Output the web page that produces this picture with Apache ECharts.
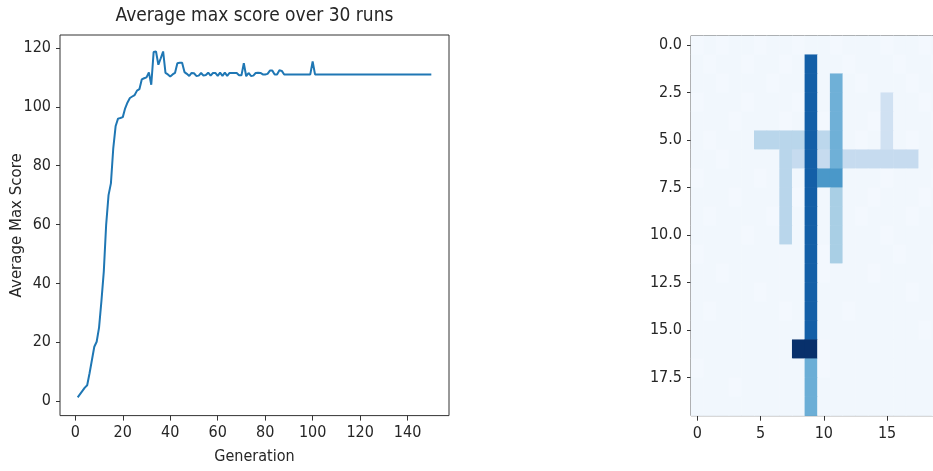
<!DOCTYPE html>
<html><head><meta charset="utf-8">
<script src="https://cdn.jsdelivr.net/npm/echarts@6/dist/echarts.min.js"></script>
<style>html,body{margin:0;padding:0;background:#fff;overflow:hidden}#c{width:933px;height:471px}</style>
</head><body><div id="c"></div>
<script>
// Average max score per generation (generation 1..150)
const avgMaxScore = [
  1.3, 2.4, 3.5, 4.6, 5.4, 9.5, 14, 18.5, 20.2, 25,
  34, 44, 60, 70, 74, 86, 93.5, 96, 96.2, 96.5,
  99.5, 101.5, 103, 103.5, 104, 105.5, 106, 109.3, 109.7, 110,
  111.7, 107.5, 118.6, 118.8, 114.3, 116.5, 118.8, 111.5, 111, 110.3,
  111, 111.5, 114.8, 115, 115, 111.8, 111.2, 110.5, 111.5, 111.4,
  110.5, 110.6, 111.5, 110.6, 110.8, 111.6, 110.6, 111.5, 111.5, 110.5,
  111.6, 110.5, 111.6, 110.5, 111.5, 111.5, 111.5, 111.5, 110.7, 110.7,
  114.8, 110.4, 111.5, 110.5, 110.6, 111.5, 111.6, 111.5, 111, 111,
  111.2, 112.3, 112.3, 111, 111, 112.4, 112.2, 111, 111, 111,
  111, 111, 111, 111, 111, 111, 111, 111, 111, 115.4,
  111, 111, 111, 111, 111, 111, 111, 111, 111, 111,
  111, 111, 111, 111, 111, 111, 111, 111, 111, 111,
  111, 111, 111, 111, 111, 111, 111, 111, 111, 111,
  111, 111, 111, 111, 111, 111, 111, 111, 111, 111,
  111, 111, 111, 111, 111, 111, 111, 111, 111, 111
];
const firstGeneration = 1;
const lineXTicks = [0, 20, 40, 60, 80, 100, 120, 140];
const lineYTicks = [0, 20, 40, 60, 80, 100, 120];

// Heatmap cell values (rows top to bottom, 20 columns each)
const heatRows = [
  [2,3,2,3,3,2,3,3,2,3,3,2,3,3,3,2,3,3,2,3],
  [3,2,3,3,2,3,3,2,3,82,3,3,2,3,3,3,2,3,3,2],
  [3,3,2,3,3,3,2,3,3,82,3,49,3,2,3,3,3,2,3,3],
  [2,3,3,3,2,3,3,3,2,82,3,49,3,3,3,20,3,3,2,3],
  [3,3,3,2,3,3,3,2,3,82,2,49,3,3,2,20,3,3,3,2],
  [3,2,3,3,3,29,29,29,29,82,28,49,3,2,3,20,3,2,3,3],
  [3,3,2,3,3,3,3,29,25,82,25,49,25,25,25,25,25,25,3,3],
  [2,3,3,3,3,2,3,29,3,82,60,60,3,3,3,2,3,3,3,2],
  [3,3,3,2,3,3,3,29,2,82,3,34,3,3,2,3,3,3,2,3],
  [3,2,3,3,3,3,2,29,3,82,3,34,3,2,3,3,3,2,3,3],
  [3,3,3,3,2,3,3,29,3,82,3,34,3,3,3,2,3,3,3,3],
  [2,3,3,3,3,3,3,3,3,82,2,34,3,3,3,3,2,3,3,2],
  [3,3,2,3,3,3,3,3,3,82,2,3,3,3,2,3,3,3,3,3],
  [3,3,3,3,3,2,3,3,3,82,3,3,3,3,3,3,3,2,3,3],
  [3,2,3,3,3,3,3,2,3,82,3,3,2,3,3,3,3,3,3,3],
  [3,3,3,3,3,3,3,3,3,82,3,3,3,3,3,3,3,3,2,3],
  [3,3,3,3,3,3,3,3,100,100,2,3,3,3,3,3,3,3,3,3],
  [2,3,3,3,3,3,3,3,3,50,2,3,3,3,3,3,3,3,3,3],
  [3,3,3,2,3,3,3,3,3,50,3,3,3,3,3,3,3,3,3,3],
  [3,3,3,3,3,3,3,3,3,50,3,3,3,3,3,3,3,3,3,3]
];
const heatXTicks = [0, 5, 10, 15];
const heatYTicks = [0, 2.5, 5, 7.5, 10, 12.5, 15, 17.5];
const bluesColormap = ['#f7fbff','#deebf7','#c6dbef','#9ecae1','#6baed6','#4292c6','#2171b5','#08519c','#08306b'];

const NARROW = "'Liberation Sans Narrow', 'DejaVu Sans Condensed', sans-serif";
const TXT = '#262626';
const FRAME = '#333';

const lineData = avgMaxScore.map((v, i) => [i + firstGeneration, v]);
const nCols = heatRows[0].length, nRows = heatRows.length;
const colCats = heatRows[0].map((_, i) => String(i));
const rowCats = heatRows.map((_, i) => String(i));
const heatData = [];
heatRows.forEach((row, r) => row.forEach((v, c) => heatData.push([c, r, v])));

const labelStyle = (margin, fmt) => ({
  fontFamily: NARROW, fontSize: 16, color: TXT, margin: margin, formatter: fmt
});
const tickStyle = (len) => ({ show: true, inside: false, length: len, lineStyle: { color: FRAME, width: 1 } });
const noLine = { show: false, onZero: false };

const chart = echarts.init(document.getElementById('c'), null, { renderer: 'canvas' });
chart.setOption({
  animation: false,
  backgroundColor: '#ffffff',
  title: {
    text: 'Average max score over 30 runs',
    left: 254.5, top: 7, padding: 0, textAlign: 'center',
    textStyle: { fontFamily: NARROW, fontSize: 19, fontWeight: 'normal', color: TXT }
  },
  grid: [
    { left: 60, top: 35, width: 389, height: 380.6, show: true, borderColor: FRAME, borderWidth: 1,
      backgroundColor: 'transparent', outerBoundsMode: 'none', containLabel: false },
    { left: 691, top: 35.7, width: 253, height: 380, show: true, borderColor: FRAME, borderWidth: 1,
      backgroundColor: 'transparent', outerBoundsMode: 'none', containLabel: false }
  ],
  xAxis: [
    {
      gridIndex: 0, type: 'value', min: -6.45, max: 157.45, position: 'bottom',
      axisLine: noLine, splitLine: { show: false },
      axisTick: Object.assign(tickStyle(5), { customValues: lineXTicks }),
      axisLabel: Object.assign(labelStyle(9), { customValues: lineXTicks }),
      name: 'Generation', nameLocation: 'middle', nameGap: 33, nameMoveOverlap: false,
      nameTextStyle: { fontFamily: NARROW, fontSize: 16, color: TXT }
    },
    { gridIndex: 1, type: 'category', data: colCats, show: false, position: 'top', axisLine: noLine },
    {
      gridIndex: 1, type: 'value', min: -0.5, max: nCols - 0.5, position: 'bottom',
      axisLine: noLine, splitLine: { show: false },
      axisTick: Object.assign(tickStyle(5), { customValues: heatXTicks }),
      axisLabel: Object.assign(labelStyle(10), { customValues: heatXTicks })
    }
  ],
  yAxis: [
    {
      gridIndex: 0, type: 'value', min: -4.9, max: 124.4, position: 'left',
      axisLine: noLine, splitLine: { show: false },
      axisTick: Object.assign(tickStyle(4), { customValues: lineYTicks }),
      axisLabel: Object.assign(labelStyle(9), { customValues: lineYTicks }),
      name: 'Average Max Score', nameLocation: 'middle', nameRotate: 90, nameGap: 35, nameMoveOverlap: false,
      nameTextStyle: { fontFamily: "'DejaVu Sans', sans-serif", fontSize: 15, color: TXT }
    },
    { gridIndex: 1, type: 'category', data: rowCats, inverse: true, show: false, position: 'right', axisLine: noLine },
    {
      gridIndex: 1, type: 'value', min: -0.5, max: nRows - 0.5, inverse: true, position: 'left',
      axisLine: noLine, splitLine: { show: false },
      axisTick: Object.assign(tickStyle(4), { customValues: heatYTicks }),
      axisLabel: Object.assign(labelStyle(9, v => v.toFixed(1)), { customValues: heatYTicks })
    }
  ],
  visualMap: {
    show: false, type: 'continuous', min: 0, max: 100, seriesIndex: 1,
    inRange: { color: bluesColormap }
  },
  series: [
    {
      type: 'line', xAxisIndex: 0, yAxisIndex: 0, data: lineData,
      showSymbol: false, symbol: 'none',
      lineStyle: { color: '#1f77b4', width: 2 },
      emphasis: { disabled: true }
    },
    {
      type: 'heatmap', xAxisIndex: 1, yAxisIndex: 1, data: heatData,
      itemStyle: { borderWidth: 0 },
      emphasis: { disabled: true }
    }
  ]
});
</script>
</body></html>
